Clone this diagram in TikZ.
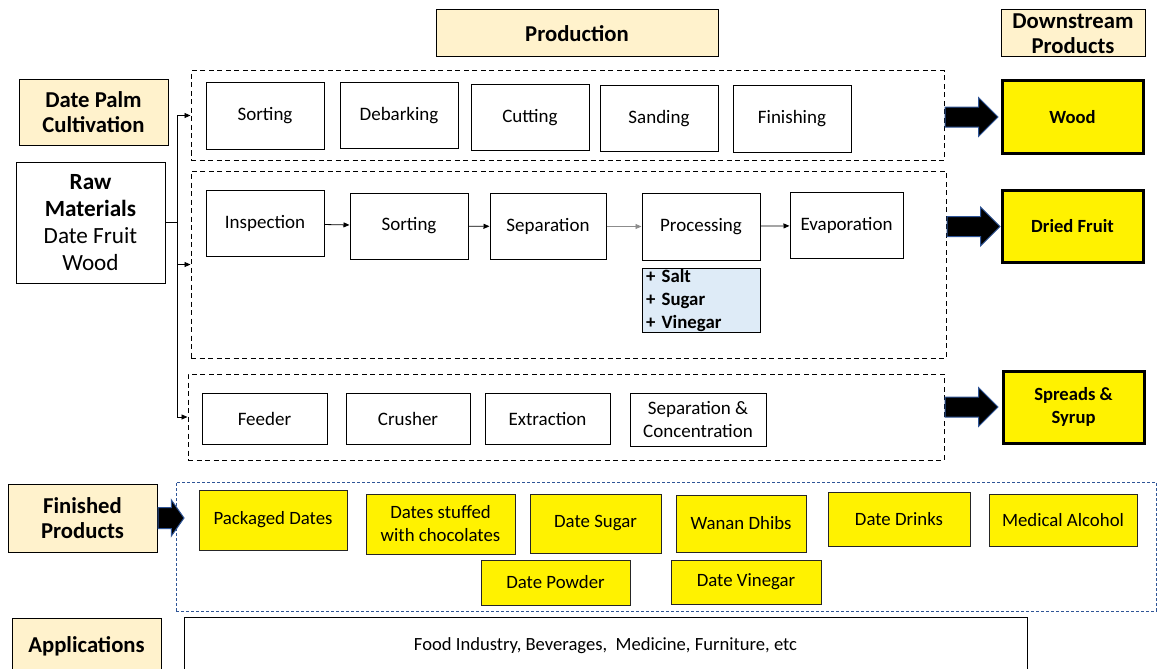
\documentclass[tikz,border=0pt]{standalone}
\usepackage{fontspec}
\setmainfont{Carlito}
\usetikzlibrary{shapes,arrows.meta,positioning}
\definecolor{headfill}{HTML}{FFF2CC}
\definecolor{addfill}{HTML}{DEEBF7}
\definecolor{dashblue}{HTML}{2F5597}

\begin{document}
\begin{tikzpicture}[
    x=1pt, y=-1pt,
    header/.style={draw, line width=1, fill=headfill, align=center, font=\fontsize{22.7}{25}\selectfont\bfseries},
    stage/.style={draw, line width=1, minimum width=118, minimum height=66, align=center, inner sep=1, font=\fontsize{19}{23}\selectfont},
    outcome/.style={draw, line width=3, fill=yellow, minimum width=141, minimum height=72, align=center, font=\fontsize{18.6}{23}\selectfont\bfseries},
    product/.style={draw=black!85, line width=1, fill=yellow, align=center, inner sep=1, font=\fontsize{18.8}{23}\selectfont},
    group/.style={draw, line width=1, dash pattern=on 5 off 3.5},
    bigarrow/.style={single arrow, fill=black, draw=dashblue, line width=1, inner xsep=0, inner ysep=9.5, single arrow head extend=9.5, minimum height=53},
    feed/.style={-{Triangle[length=6,width=5]}, line width=0.8},
    flow/.style={-{Triangle[length=6,width=5]}, line width=0.8}
]
\useasboundingbox (0,0) rectangle (1157,669);

% Column headers
\node[header, minimum width=282, minimum height=47] (prod) at (577,33.5) {Production};
\node[header, minimum width=144, minimum height=47, inner ysep=0] (down) at (1073,33.5) {Downstream\\Products};

% Inputs
\node[header, minimum width=149, minimum height=65] (cult) at (93.5,112.5) {Date Palm\\Cultivation};
\node[draw, line width=1, minimum width=149, minimum height=121, align=center, font=\fontsize{23.2}{27}\selectfont] (raw) at (90.5,222.5) {\textbf{Raw}\\\textbf{Materials}\\Date Fruit\\Wood};

% Production lines
\node[group, minimum width=753, minimum height=89] (grp1) at (567.5,115.5) {};
\node[group, minimum width=755, minimum height=187] (grp2) at (568.5,264.5) {};
\node[group, minimum width=756, minimum height=86] (grp3) at (566,417) {};

% Wood line
\node[stage] (sort1) at (265,116) {Sorting};
\node[stage] (debark) at (399,115.5) {Debarking};
\node[stage] (cut) at (530,117.5) {Cutting};
\node[stage] (sand) at (659,118.5) {Sanding};
\node[stage] (finish) at (792,119) {Finishing};

% Dried fruit line
\node[stage] (insp) at (265,223.5) {Inspection};
\node[stage] (sort2) at (409,226) {Sorting};
\node[stage, minimum width=116] (sep) at (548,226.5) {Separation};
\node[stage, minimum height=67] (proc) at (701,226.5) {Processing};
\node[stage, minimum width=113] (evap) at (846.5,225.5) {Evaporation};
\node[draw, line width=1, fill=addfill, minimum width=118, minimum height=64, text width=110, inner xsep=4, inner ysep=0, align=left, font=\fontsize{18.8}{23}\selectfont\bfseries] (additive) at (701,300) {+ Salt\\+ Sugar\\+ Vinegar};

\draw[flow] (insp) -- (sort2);
\draw[flow] (sort2) -- (sep);
\draw[flow, black!45] (sep) -- (proc);
\draw[flow] (proc) -- (evap);

% Spreads line
\node[stage, minimum width=125, minimum height=51] (feeder) at (264.5,418.5) {Feeder};
\node[stage, minimum width=124, minimum height=51] (crush) at (408,418.5) {Crusher};
\node[stage, minimum width=125, minimum height=51] (extract) at (547.5,418.5) {Extraction};
\node[stage, minimum width=136, minimum height=53] (conc) at (698,419.5) {Separation \&\\Concentration};

% Raw materials into each line
\draw[line width=0.8] (raw.east) -- ++(12,0) coordinate (split);
\draw[feed] (split) |- (grp1.west);
\draw[feed] (split) |- (grp2.west);
\draw[feed] (split) |- (grp3.west);

% Downstream products
\node[outcome] (wood) at (1072.5,117) {Wood};
\node[outcome] (dried) at (1072.5,226.5) {Dried Fruit};
\node[outcome] (syrup) at (1073.5,407) {Spreads \&\\Syrup};

\node[bigarrow, anchor=west] (arr1) at (grp1.east |- wood.west) {};
\node[bigarrow, anchor=west] (arr2) at (grp2.east |- dried.west) {};
\node[bigarrow, anchor=west] (arr3) at (grp3.east |- syrup.west) {};

% Finished products
\node[header, minimum width=149, minimum height=68] (fin) at (82.5,518) {Finished\\Products};
\node[draw=dashblue, line width=1, dash pattern=on 3 off 2, minimum width=980, minimum height=129] (grp4) at (666,546.5) {};
\node[bigarrow, anchor=west, inner ysep=10, single arrow head extend=7.5, single arrow tip angle=110, minimum height=26] (arr4) at (fin.east) {};

\node[product, minimum width=148, minimum height=60] (packed) at (273,520) {Packaged Dates};
\node[product, minimum width=149, minimum height=60] (stuffed) at (440.5,524) {Dates stuffed\\with chocolates};
\node[product, minimum width=131, minimum height=59] (sugar) at (595.5,523.5) {Date Sugar};
\node[product, minimum width=130, minimum height=57] (dhibs) at (741,523.5) {Wanan Dhibs};
\node[product, minimum width=142, minimum height=54] (drinks) at (899,519) {Date Drinks};
\node[product, minimum width=148, minimum height=52] (alcohol) at (1063,520) {Medical Alcohol};
\node[product, minimum width=149, minimum height=45] (powder) at (555.5,582.5) {Date Powder};
\node[product, minimum width=150, minimum height=44] (vinegar) at (746,582) {Date Vinegar};

% Applications
\node[header, minimum width=149, minimum height=57] (apps) at (86.5,646.5) {Applications};
\node[draw, line width=1, minimum width=843, minimum height=58, font=\fontsize{18.6}{21}\selectfont] (uses) at (605.5,646) {Food Industry, Beverages,\ \ Medicine, Furniture, etc};

\end{tikzpicture}
\end{document}
